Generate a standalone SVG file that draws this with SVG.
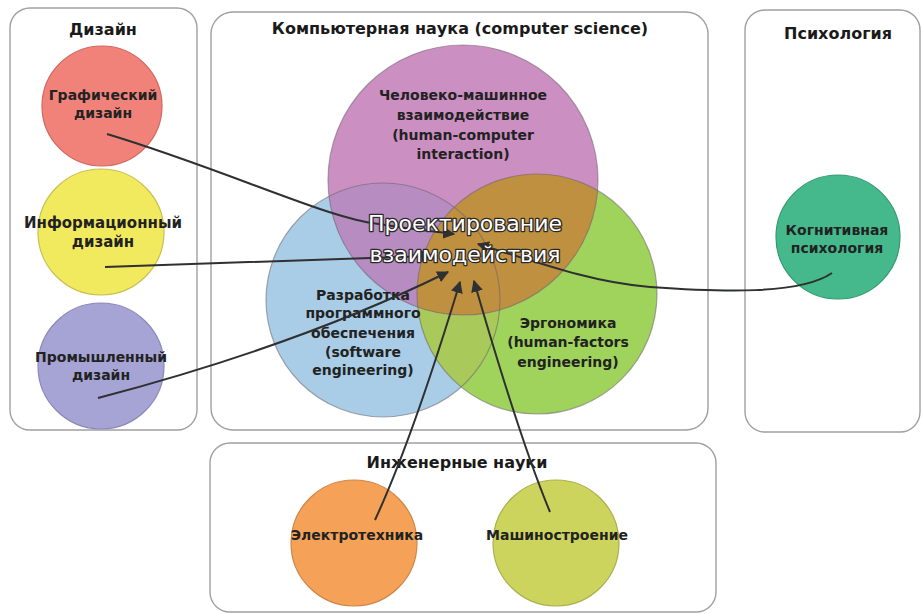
<svg xmlns="http://www.w3.org/2000/svg" width="921" height="614" viewBox="0 0 921 614">
<style>
.box{fill:#fff;stroke:#a0a0a0;stroke-width:1.4}
.title{font-family:"DejaVu Sans",sans-serif;font-weight:bold;font-size:16px;fill:#1a1a1a;text-anchor:middle}
.lbl{font-family:"DejaVu Sans",sans-serif;font-weight:bold;font-size:14px;fill:#222;text-anchor:middle}
.ring{fill:none;stroke:#6d6470;stroke-opacity:0.55;stroke-width:1.2}
.small{stroke-width:1.2}
.con{fill:none;stroke:#2e3032;stroke-width:2}
.center{font-family:"DejaVu Sans",sans-serif;font-size:22px;fill:#fff;stroke:#2a2a2a;stroke-width:2.6;paint-order:stroke;stroke-linejoin:round;text-anchor:middle}
</style>
<defs>
<marker id="arr" viewBox="0 0 10 10" refX="9" refY="5" markerWidth="6" markerHeight="6" orient="auto" markerUnits="strokeWidth">
<path d="M0,0 L10,5 L0,10 z" fill="#2e3032"/>
</marker>
<clipPath id="cBlue"><circle cx="383" cy="300" r="117"/></clipPath>
<clipPath id="cGreen"><circle cx="537" cy="294" r="120"/></clipPath>
</defs>
<rect width="921" height="614" fill="#fff"/>

<g id="box-design"><rect class="box" x="10" y="8" width="187" height="422" rx="20"/><text class="title" x="103" y="35">Дизайн</text></g>
<g id="box-cs"><rect class="box" x="211" y="12" width="497" height="418" rx="22"/><text class="title" x="460" y="34">Компьютерная наука (computer science)</text></g>
<g id="box-psy"><rect class="box" x="745" y="10" width="175" height="422" rx="20"/><text class="title" x="838" y="39">Психология</text></g>
<g id="box-eng"><rect class="box" x="210" y="443" width="506" height="169" rx="20"/><text class="title" x="457" y="468">Инженерные науки</text></g>

<g id="venn">
<circle cx="383" cy="300" r="117" fill="#a9cde6"/>
<circle cx="537" cy="294" r="120" fill="#9fd35b"/>
<circle cx="463" cy="180" r="135" fill="#cc8fc2"/>
<g clip-path="url(#cBlue)"><circle cx="537" cy="294" r="120" fill="#a9c95b"/><circle cx="463" cy="180" r="135" fill="#b78cc0"/></g>
<g clip-path="url(#cGreen)"><circle cx="463" cy="180" r="135" fill="#bf903f"/></g>
<circle class="ring" cx="383" cy="300" r="117"/>
<circle class="ring" cx="537" cy="294" r="120"/>
<circle class="ring" cx="463" cy="180" r="135"/>
</g>

<g id="node-hci"><text class="lbl" x="463" y="100">Человеко-машинное</text><text class="lbl" x="463" y="120">взаимодействие</text><text class="lbl" x="463" y="140">(human-computer</text><text class="lbl" x="463" y="159">interaction)</text></g>
<g id="node-se"><text class="lbl" x="363" y="300">Разработка</text><text class="lbl" x="363" y="318">программного</text><text class="lbl" x="363" y="338">обеспечения</text><text class="lbl" x="363" y="357">(software</text><text class="lbl" x="363" y="375">engineering)</text></g>
<g id="node-ergo"><text class="lbl" x="568" y="328">Эргономика</text><text class="lbl" x="568" y="347">(human-factors</text><text class="lbl" x="568" y="367">engineering)</text></g>

<g id="node-graphic"><circle class="small" cx="102" cy="106" r="60" fill="#f08279" stroke="#d0665e"/><text class="lbl" x="103" y="100">Графический</text><text class="lbl" x="103" y="118">дизайн</text></g>
<g id="node-info"><circle class="small" cx="101" cy="232" r="63" fill="#f2ea5e" stroke="#c8c050"/><text class="lbl" x="103" y="228" style="font-size:15px">Информационный</text><text class="lbl" x="103" y="247" style="font-size:15px">дизайн</text></g>
<g id="node-industrial"><circle class="small" cx="101" cy="366" r="63" fill="#a6a4d4" stroke="#8a88b8"/><text class="lbl" x="101" y="362">Промышленный</text><text class="lbl" x="101" y="380">дизайн</text></g>
<g id="node-cog"><circle class="small" cx="838" cy="237" r="62" fill="#45b98c" stroke="#329a72"/><text class="lbl" x="837" y="235">Когнитивная</text><text class="lbl" x="837" y="253">психология</text></g>
<g id="node-elec"><circle class="small" cx="354" cy="543" r="63" fill="#f5a258" stroke="#cf8544"/><text class="lbl" x="357" y="540">Электротехника</text></g>
<g id="node-mech"><circle class="small" cx="556" cy="543" r="63" fill="#cdd45e" stroke="#a9b04a"/><text class="lbl" x="557" y="540">Машиностроение</text></g>

<g id="connectors">
<path class="con" marker-end="url(#arr)" d="M107,134 C220,168 320,215 372,223 S430,231 454,234"/>
<path class="con" marker-end="url(#arr)" d="M105,267 L370,258 L432,256"/>
<path class="con" marker-end="url(#arr)" d="M98,398 Q300,345 448,272"/>
<path class="con" marker-end="url(#arr)" d="M375,520 Q412,440 460,282"/>
<path class="con" marker-end="url(#arr)" d="M550,512 Q520,440 474,281"/>
<path class="con" marker-end="url(#arr)" d="M832,273 C800,295 720,292 650,287 C600,283 560,270 478,244"/>
</g>

<g id="node-center"><text class="center" x="465" y="231">Проектирование</text><text class="center" x="465" y="262">взаимодействия</text></g>
</svg>
